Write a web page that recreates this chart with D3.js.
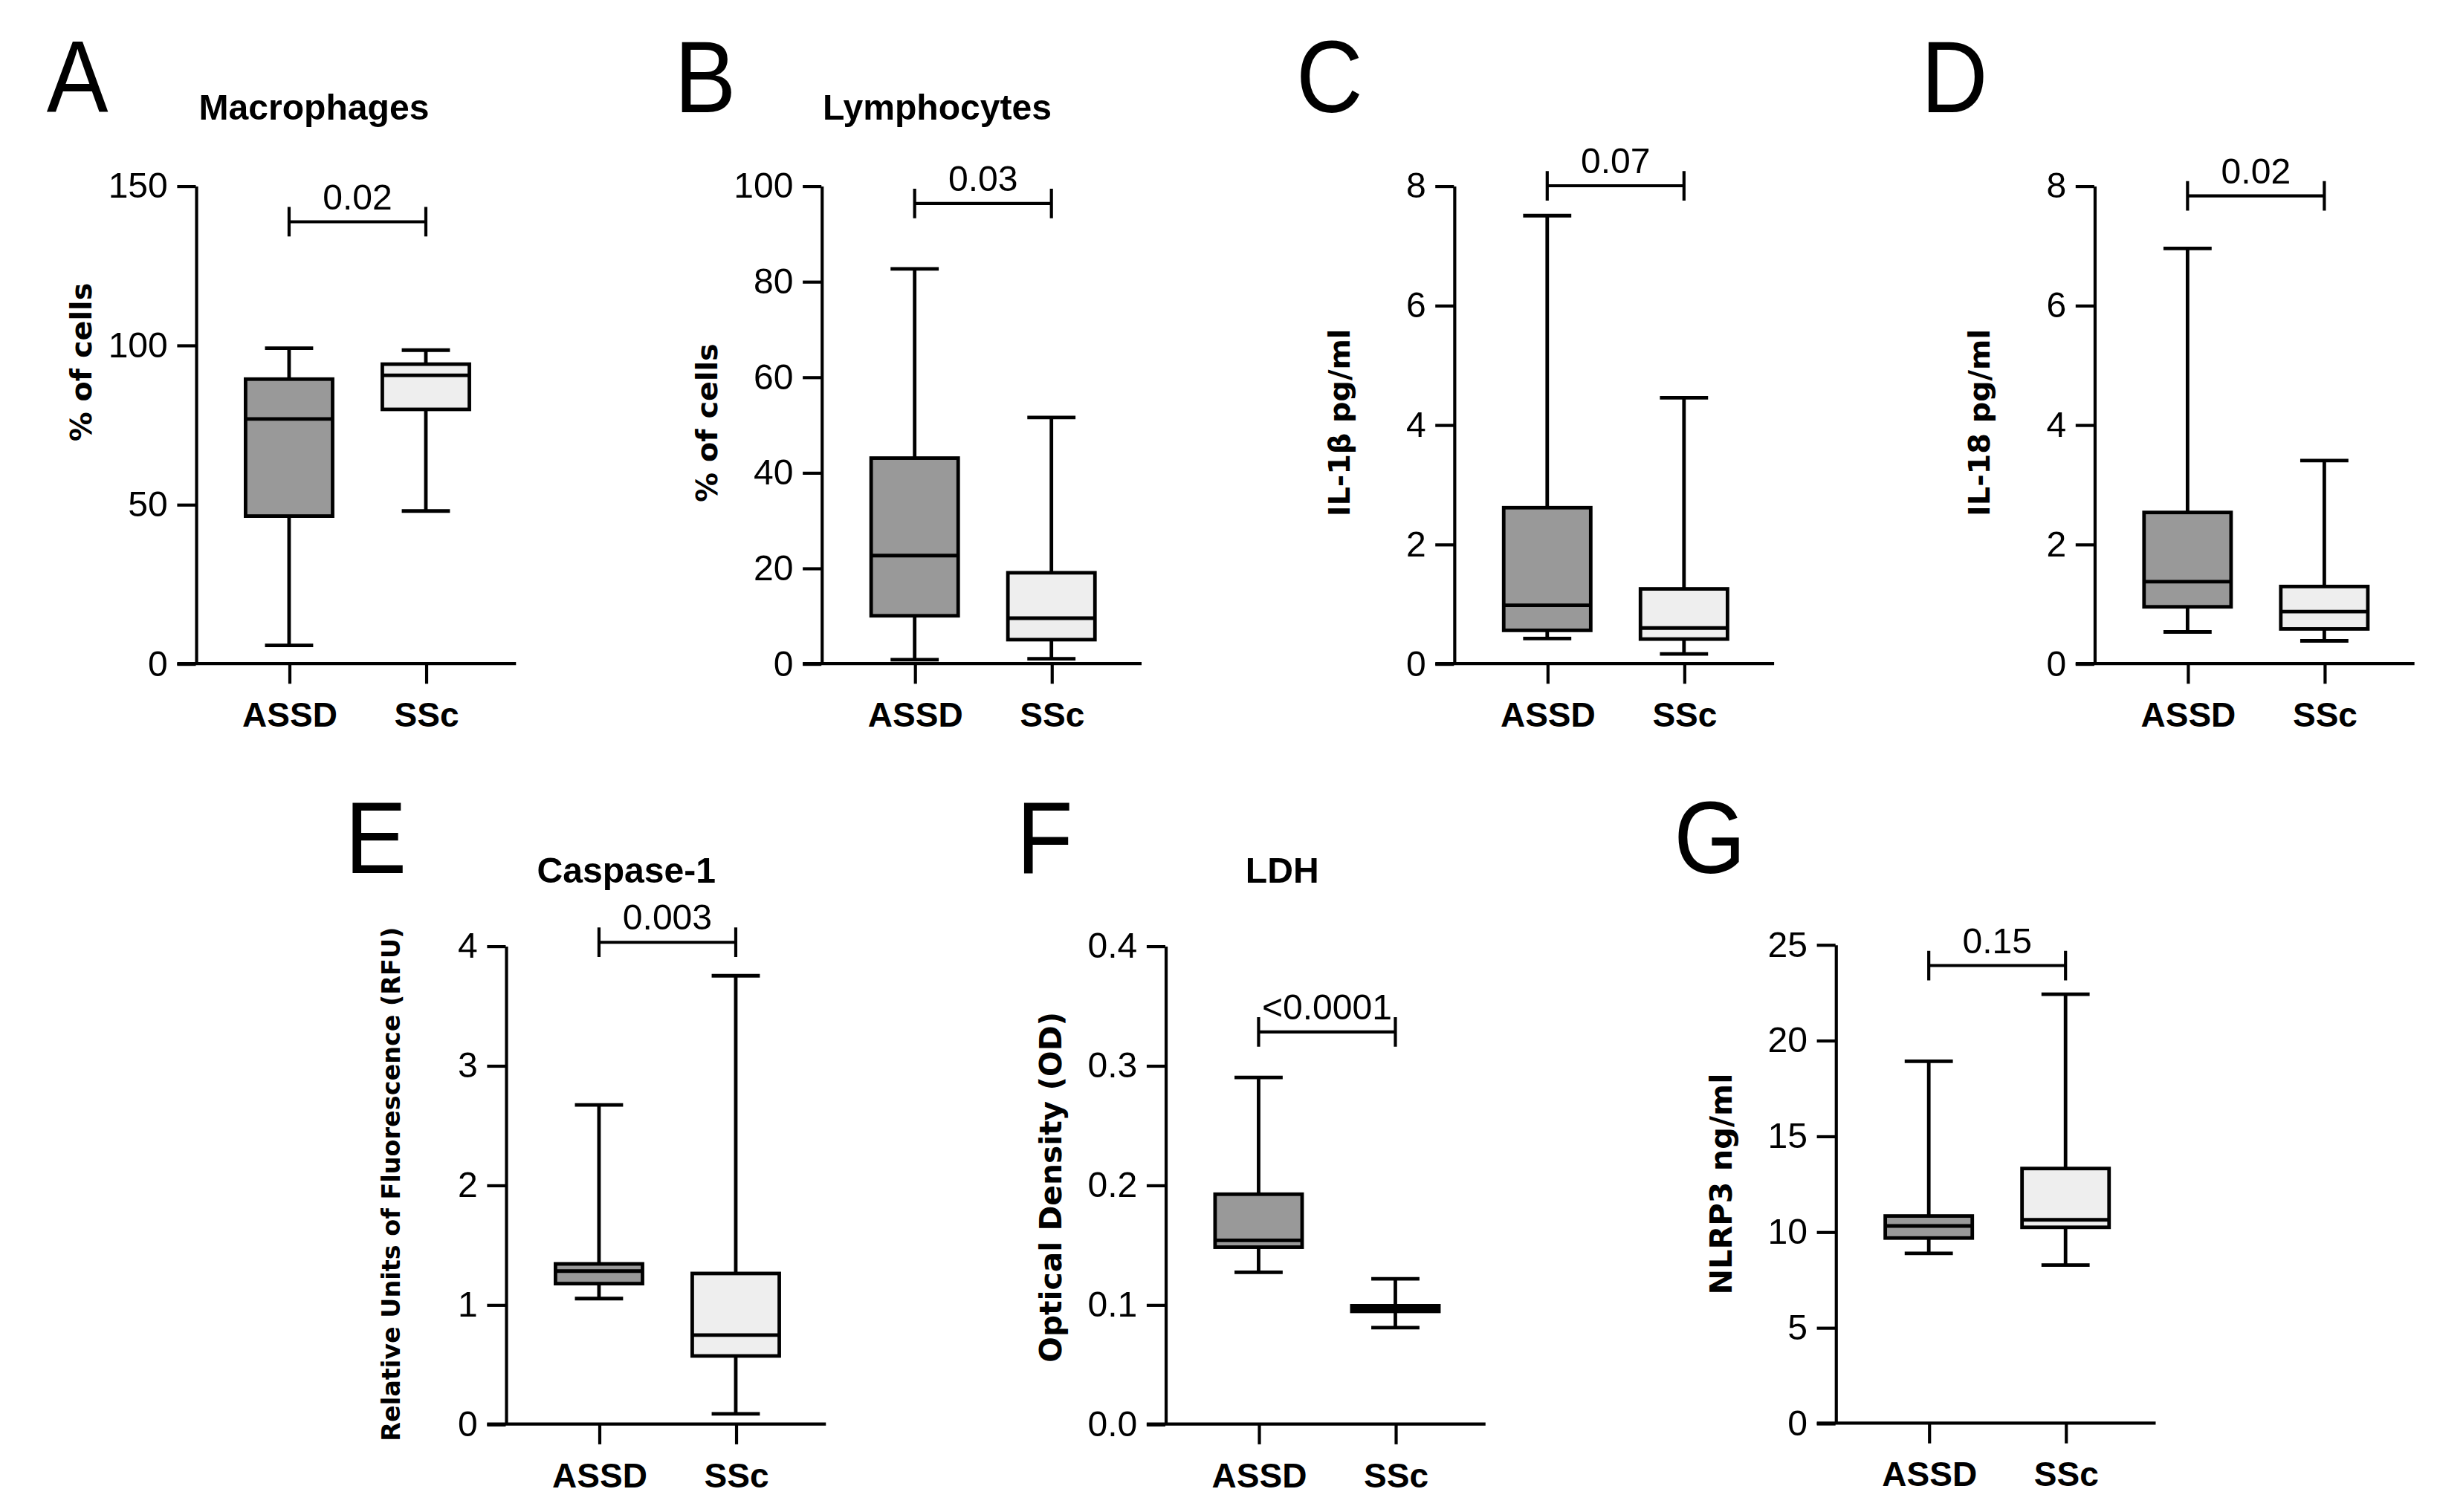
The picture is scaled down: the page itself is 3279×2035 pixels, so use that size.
<!DOCTYPE html>
<html>
<head>
<meta charset="utf-8">
<script src="https://cdn.jsdelivr.net/npm/d3@7"></script>
<style>
  html, body { margin: 0; padding: 0; background: #fff; }
  svg { display: block; }
</style>
</head>
<body>
<svg id="chart"></svg>
<script>
var W = 1568, H = 973;

// data
var groups = ["ASSD", "SSc"];
var panelLetters = ["A", "B", "C", "D", "E", "F", "G"];
var panelTitles = ["Macrophages", "Lymphocytes", "", "", "Caspase-1", "LDH", ""];
var yTitles = ["% of cells", "% of cells", "IL-1\u03b2 pg/ml", "IL-18 pg/ml",
               "Relative Units of Fluorescence (RFU)", "Optical Density (OD)", "NLRP3 ng/ml"];
var yTicks = [
  [0, 50, 100, 150],
  [0, 20, 40, 60, 80, 100],
  [0, 2, 4, 6, 8],
  [0, 2, 4, 6, 8],
  [0, 1, 2, 3, 4],
  [0, 0.1, 0.2, 0.3, 0.4],
  [0, 5, 10, 15, 20, 25]
];
var pValues = ["0.02", "0.03", "0.07", "0.02", "0.003", "<0.0001", "0.15"];
var bracketAt = [138.7, 96.3, 8.0, 7.83, 4.03, 0.328, 23.9];
// [min, q1, median, q3, max]
var assd = [
  [5.7, 46.3, 76.8, 89.3, 99.0],
  [0.8, 10.0, 22.6, 43.0, 82.6],
  [0.42, 0.556, 0.976, 2.61, 7.5],
  [0.53, 0.95, 1.37, 2.53, 6.95],
  [1.05, 1.175, 1.28, 1.34, 2.67],
  [0.127, 0.148, 0.1537, 0.1923, 0.290],
  [8.87, 9.67, 10.3, 10.82, 18.9]
];
var ssc = [
  [47.9, 79.8, 90.5, 94.0, 98.4],
  [1.0, 5.0, 9.5, 19.0, 51.5],
  [0.16, 0.41, 0.595, 1.25, 4.45],
  [0.38, 0.58, 0.87, 1.29, 3.40],
  [0.086, 0.57, 0.745, 1.26, 3.75],
  [0.0807, 0.0943, 0.0966, 0.0990, 0.1215],
  [8.26, 10.23, 10.62, 13.3, 22.4]
];
var tickFormats = ["d", "d", "d", "d", "d", ".1f", "d"];

// layout (in 1568 x 973 units)
var layout = [
  {ax: 126,   top: 119.5, bot: 427,   lx: 30,   ly: 72,  tx: 202, ty: 77,  yl: 233},
  {ax: 528.5, top: 119.5, bot: 427,   lx: 434,  ly: 72,  tx: 603, ty: 77,  yl: 272},
  {ax: 935.5, top: 119.5, bot: 427,   lx: 834,  ly: 72,  tx: 0,   ty: 0,   yl: 272},
  {ax: 1347.5,top: 119.5, bot: 427,   lx: 1236, ly: 72,  tx: 0,   ty: 0,   yl: 272},
  {ax: 325.4, top: 608.7, bot: 916.5, lx: 222,  ly: 562, tx: 403, ty: 568, yl: 762},
  {ax: 749.8, top: 608.7, bot: 916.5, lx: 654,  ly: 562, tx: 825, ty: 568, yl: 764},
  {ax: 1181,  top: 607.8, bot: 915.9, lx: 1077, ly: 562, tx: 0,   ty: 0,   yl: 762}
];
var yTitleSize = [19, 19, 19, 19, 16, 19.5, 19.8];

var fills = {ASSD: "#999999", SSc: "#eeeeee"};
var narrow = "'Liberation Sans', Arial, sans-serif";
var boxW = 56, capW = 31, lw = 2.3;

var svg = d3.select("#chart")
    .attr("width", 3279)
    .attr("height", 2035)
    .attr("viewBox", "0 0 " + W + " " + H);

svg.append("rect").attr("width", W).attr("height", H).attr("fill", "#fff");

layout.forEach(function(L, i) {
  var g = svg.append("g");
  var ticks = yTicks[i];
  var y = d3.scaleLinear()
      .domain([0, ticks[ticks.length - 1]])
      .range([L.bot, L.top]);
  var x = d3.scalePoint()
      .domain(groups)
      .range([L.ax + 60, L.ax + 148]);

  // panel letter
  g.append("text")
      .attr("x", L.lx).attr("y", L.ly)
      .attr("font-family", narrow)
      .attr("font-size", 66)
      .attr("transform", "translate(" + L.lx + ",0) scale(0.9,1) translate(" + (-L.lx) + ",0)")
      .text(panelLetters[i]);

  // title
  if (panelTitles[i]) {
    g.append("text")
        .attr("x", L.tx).attr("y", L.ty)
        .attr("text-anchor", "middle")
        .attr("font-family", narrow)
        .attr("font-weight", "bold")
        .attr("font-size", 23)
        .text(panelTitles[i]);
  }

  // y axis
  var yAxis = g.append("g")
      .attr("transform", "translate(" + L.ax + ",0)")
      .call(d3.axisLeft(y)
        .tickValues(ticks)
        .tickSize(12)
        .tickSizeOuter(0)
        .tickPadding(6)
        .tickFormat(d3.format(tickFormats[i])));
  yAxis.selectAll("path, line").attr("stroke", "#000").attr("stroke-width", 2);
  yAxis.selectAll("text")
      .attr("font-family", narrow)
      .attr("font-size", 23)
      .attr("fill", "#000");

  // x axis
  g.append("line")
      .attr("x1", L.ax - 12).attr("x2", L.ax + 206)
      .attr("y1", y(0)).attr("y2", y(0))
      .attr("stroke", "#000").attr("stroke-width", 2);
  var xAxis = g.append("g")
      .attr("transform", "translate(0," + y(0) + ")")
      .call(d3.axisBottom(x).tickSize(13).tickSizeOuter(0).tickPadding(12));
  xAxis.select(".domain").remove();
  xAxis.selectAll("line").attr("stroke", "#000").attr("stroke-width", 2);
  xAxis.selectAll("text")
      .attr("font-family", narrow)
      .attr("font-weight", "bold")
      .attr("font-size", 22)
      .attr("fill", "#000");

  // y title
  g.append("text")
      .attr("transform", "translate(" + (L.ax - 74) + "," + L.yl + ") rotate(-90)")
      .attr("text-anchor", "middle")
      .attr("dy", "0.36em")
      .attr("font-family", "'DejaVu Sans', Verdana, sans-serif")
      .attr("font-weight", "bold")
      .attr("font-size", yTitleSize[i])
      .text(yTitles[i]);

  // boxes
  var stats = [{k: "ASSD", s: assd[i]}, {k: "SSc", s: ssc[i]}];
  var box = g.selectAll(".box").data(stats).enter().append("g").attr("class", "box");
  box.append("line")
      .attr("x1", function(d) { return x(d.k); })
      .attr("x2", function(d) { return x(d.k); })
      .attr("y1", function(d) { return y(d.s[4]); })
      .attr("y2", function(d) { return y(d.s[0]); })
      .attr("stroke", "#000").attr("stroke-width", lw);
  box.selectAll(".cap").data(function(d) { return [{k: d.k, v: d.s[0]}, {k: d.k, v: d.s[4]}]; })
    .enter().append("line")
      .attr("x1", function(d) { return x(d.k) - capW / 2; })
      .attr("x2", function(d) { return x(d.k) + capW / 2; })
      .attr("y1", function(d) { return y(d.v); })
      .attr("y2", function(d) { return y(d.v); })
      .attr("stroke", "#000").attr("stroke-width", lw);
  box.append("rect")
      .attr("x", function(d) { return x(d.k) - boxW / 2; })
      .attr("width", boxW)
      .attr("y", function(d) { return y(d.s[3]); })
      .attr("height", function(d) { return y(d.s[1]) - y(d.s[3]); })
      .attr("fill", function(d) { return fills[d.k]; })
      .attr("stroke", "#000").attr("stroke-width", lw);
  box.append("line")
      .attr("x1", function(d) { return x(d.k) - boxW / 2; })
      .attr("x2", function(d) { return x(d.k) + boxW / 2; })
      .attr("y1", function(d) { return y(d.s[2]); })
      .attr("y2", function(d) { return y(d.s[2]); })
      .attr("stroke", "#000").attr("stroke-width", lw);

  // significance bracket
  var by = y(bracketAt[i]);
  var x1 = x(groups[0]), x2 = x(groups[1]);
  g.append("path")
      .attr("d", "M" + x1 + "," + (by - 9.5) + "V" + (by + 9.5) +
                 "M" + x1 + "," + by + "H" + x2 +
                 "M" + x2 + "," + (by - 9.5) + "V" + (by + 9.5))
      .attr("fill", "none")
      .attr("stroke", "#000").attr("stroke-width", 2);
  g.append("text")
      .attr("x", (x1 + x2) / 2).attr("y", by - 8)
      .attr("text-anchor", "middle")
      .attr("font-family", narrow)
      .attr("font-size", 23)
      .text(pValues[i]);
});
</script>
</body>
</html>
